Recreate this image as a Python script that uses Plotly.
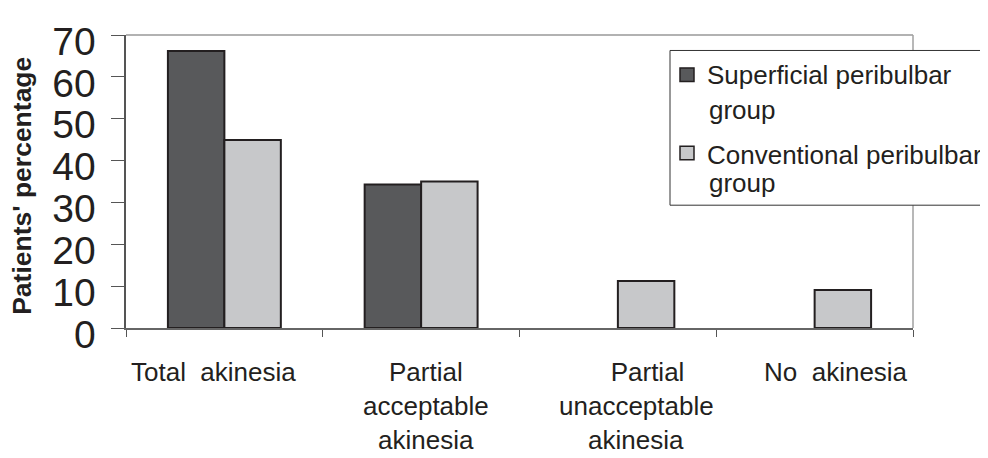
import plotly.graph_objects as go

categories = ["Total akinesia", "Partial acceptable akinesia",
              "Partial unacceptable akinesia", "No akinesia"]
label_lines = [["Total\u00a0 akinesia"],
               ["Partial", "acceptable", "akinesia"],
               ["\u00a0\u00a0\u00a0Partial", "unacceptable", "akinesia"],
               ["No\u00a0 akinesia"]]
superficial = [66.2, 34.3, 0, 0]
conventional = [44.9, 35.0, 11.2, 9.1]
series_names = ["Superficial peribulbar", "Conventional peribulbar"]
y_ticks = [0, 10, 20, 30, 40, 50, 60, 70]

# the page body has an 8px margin, so the figure starts at (8, 8) in the window
OFF = 8
W, H = 988 - OFF, 458 - OFF
PLOT_L, PLOT_R, PLOT_T, PLOT_B = 126, 913, 25, 328   # window pixels
ML, MR, MT, MB = PLOT_L - OFF, 988 - PLOT_R, PLOT_T - OFF, 458 - PLOT_B
PW, PH = PLOT_R - PLOT_L, PLOT_B - PLOT_T


def px(x):
    return (x - PLOT_L) / PW


def py(y):
    return (PLOT_B - y) / PH


DARK = "#58595b"
LIGHT = "#c7c8ca"
EDGE = "#231f20"
FONT = "Liberation Sans, Arial, sans-serif"

fig = go.Figure()
fig.add_trace(go.Bar(x=categories, y=superficial, name=series_names[0],
                     marker=dict(color=DARK,
                                 line=dict(color=EDGE, width=[2 if v > 0 else 0 for v in superficial]))))
fig.add_trace(go.Bar(x=categories, y=conventional, name=series_names[1],
                     marker=dict(color=LIGHT,
                                 line=dict(color=EDGE, width=[2 if v > 0 else 0 for v in conventional]))))

fig.update_layout(
    width=W, height=H,
    margin=dict(l=ML, r=MR, t=MT, b=MB, pad=0),
    paper_bgcolor="white", plot_bgcolor="white",
    barmode="group", bargap=0.426, bargroupgap=0,
    showlegend=False,
    font=dict(family=FONT, color="#231f20"),
)
fig.update_xaxes(type="category", showline=True, linecolor="#666666", linewidth=1.5,
                 ticks="outside", tickson="boundaries", ticklen=7, tickcolor="#555555",
                 tickwidth=1.2, showticklabels=False, showgrid=False, zeroline=False)
fig.update_yaxes(range=[0, 70], tickvals=y_ticks,
                 ticktext=[f"{v}\u2009" for v in y_ticks],
                 showline=True, linecolor="#555555",
                 linewidth=1.5, ticks="outside", ticklen=13, tickcolor="#555555", tickwidth=1.2,
                 tickfont=dict(size=39, family=FONT, color="#231f20"),
                 ticklabelshift=6, ticklabeloverflow="allow",
                 showgrid=False, zeroline=False)

shapes = []
# top and right borders of plot area
shapes.append(dict(type="line", xref="paper", yref="paper", x0=0, x1=1, y0=1, y1=1,
                   line=dict(color="#999999", width=1.5)))
shapes.append(dict(type="line", xref="paper", yref="paper", x0=1, x1=1, y0=0, y1=1,
                   line=dict(color="#a0a0a0", width=1.5)))
# legend box
shapes.append(dict(type="rect", xref="paper", yref="paper", x0=px(670), x1=px(1010),
                   y0=py(201), y1=py(41), fillcolor="white",
                   line=dict(color="#333333", width=1), layer="above"))
for (y0, y1), col in zip([(59, 73), (140, 154)], [DARK, LIGHT]):
    shapes.append(dict(type="rect", xref="paper", yref="paper", x0=px(680), x1=px(694),
                       y0=py(y1), y1=py(y0), fillcolor=col,
                       line=dict(color=EDGE, width=1.5), layer="above"))
fig.update_layout(shapes=shapes)

ann = []
# y-axis title
ann.append(dict(text="<b>Patients' percentage</b>", textangle=-90, xref="paper", yref="paper",
                x=px(22), y=py(181), xanchor="center", yanchor="middle", showarrow=False,
                font=dict(size=26.5, family=FONT, color="#231f20")))
# x category labels
centers_px = [213, 426, 636, 836]
for cat, lines, cx in zip(categories, label_lines, centers_px):
    for i, line in enumerate(lines):
        ann.append(dict(text=line, xref="paper", yref="paper", x=px(cx), y=py(373 + i * 35.5),
                        xanchor="center", yanchor="middle", showarrow=False,
                        font=dict(size=26, family=FONT, color="#231f20")))
# legend text
legend_lines = [(705, 66, "Superficial peribulbar"), (707, 103, "group"),
                (705, 149, "Conventional peribulbar"), (707, 178, "group")]
for lx, ly, t in legend_lines:
    ann.append(dict(text=t, xref="paper", yref="paper", x=px(lx), y=py(ly),
                    xanchor="left", yanchor="middle", showarrow=False,
                    font=dict(size=26, family=FONT, color="#231f20")))
fig.update_layout(annotations=ann)

fig.write_html("out.html")
